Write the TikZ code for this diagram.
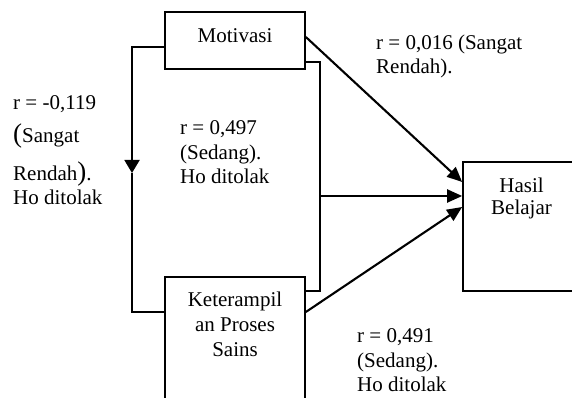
\documentclass[tikz,border=0pt]{standalone}
\usepackage{fontspec}
\setmainfont{Liberation Serif}
\usetikzlibrary{arrows.meta,calc}
\begin{document}
\begin{tikzpicture}[x=1pt,y=1pt,
  box/.style={draw=black,line width=1.7pt,minimum width=140pt,inner sep=0pt},
  conn/.style={line width=1.9pt},
  arr/.style={line width=2.1pt,-{Triangle[length=15pt,width=13pt]}},
  txt/.style={anchor=base west,inner sep=0pt,align=left,font=\fontsize{21}{24.5}\selectfont},
  ctxt/.style={anchor=base,inner sep=0pt,align=center,font=\fontsize{21}{24.5}\selectfont}]
\clip (0,0) rectangle (572,398);
\useasboundingbox (0,0) rectangle (572,398);
% boxes
\node[box,minimum height=57pt] (mot) at (235,357.5) {};
\node[box,minimum height=133pt] (kps) at (235,54.5) {};
\node[box,minimum width=117pt,minimum height=129pt] (hb) at (521.5,171.5) {};
% box texts
\node[ctxt] (tmot) at (235,355) {Motivasi};
\node[ctxt] (tk1) at (235,91) {Keterampil};
\node[ctxt] (tk2) at (235,66) {an Proses};
\node[ctxt] (tk3) at (235,41) {Sains};
\node[ctxt] (th1) at (521.5,205) {Hasil};
\node[ctxt] (th2) at (521.5,183) {Belajar};
% connector points
\coordinate (ml) at ($(mot.west)+(0,-6.5)$);
\coordinate (mr) at ($(mot.east)+(0,-21.5)$);
\coordinate (md) at ($(mot.east)+(0,3.5)$);
\coordinate (kl) at ($(kps.west)+(0,31.5)$);
\coordinate (kr) at ($(kps.east)+(0,52.5)$);
\coordinate (kd) at ($(kps.east)+(0,31.5)$);
\coordinate (lt) at (132,351);
\coordinate (la) at (132,225);
\coordinate (lb) at (132,86);
\coordinate (rt) at (320,336);
\coordinate (rm) at (320,202);
\coordinate (rb) at (320,107);
\coordinate (h1) at ($(hb.west)+(0,44.5)$);
\coordinate (h2) at ($(hb.west)+(0,30.5)$);
\coordinate (h3) at ($(hb.west)+(0,19.5)$);
% left connector with arrow
\draw[conn,-{Triangle[length=13pt,width=15pt]}] (ml) -- (lt) -- (la);
\draw[conn] (la) -- (lb) -- (kl);
% right connector
\draw[conn] (mr) -- (rt) -- (rb) -- (kr);
\draw[arr] (rm) -- (h2);
% diagonals
\draw[arr] (md) -- (h1);
\draw[arr] (kd) -- (h3);
% labels (anchor at baseline of last line)
\node[txt] (l1) at (376,324) {r = 0,016 (Sangat\\Rendah).};
\node[txt] (l2) at (13,193) {r = -0,119\\[9pt]{\fontsize{27}{27}\selectfont(}Sangat\\[13pt]Rendah{\fontsize{27}{27}\selectfont)}.\\Ho ditolak};
\node[txt] (l3) at (180,214) {r = 0,497\\(Sedang).\\Ho ditolak};
\node[txt] (l4) at (357,6) {r = 0,491\\(Sedang).\\Ho ditolak};
\end{tikzpicture}
\end{document}
